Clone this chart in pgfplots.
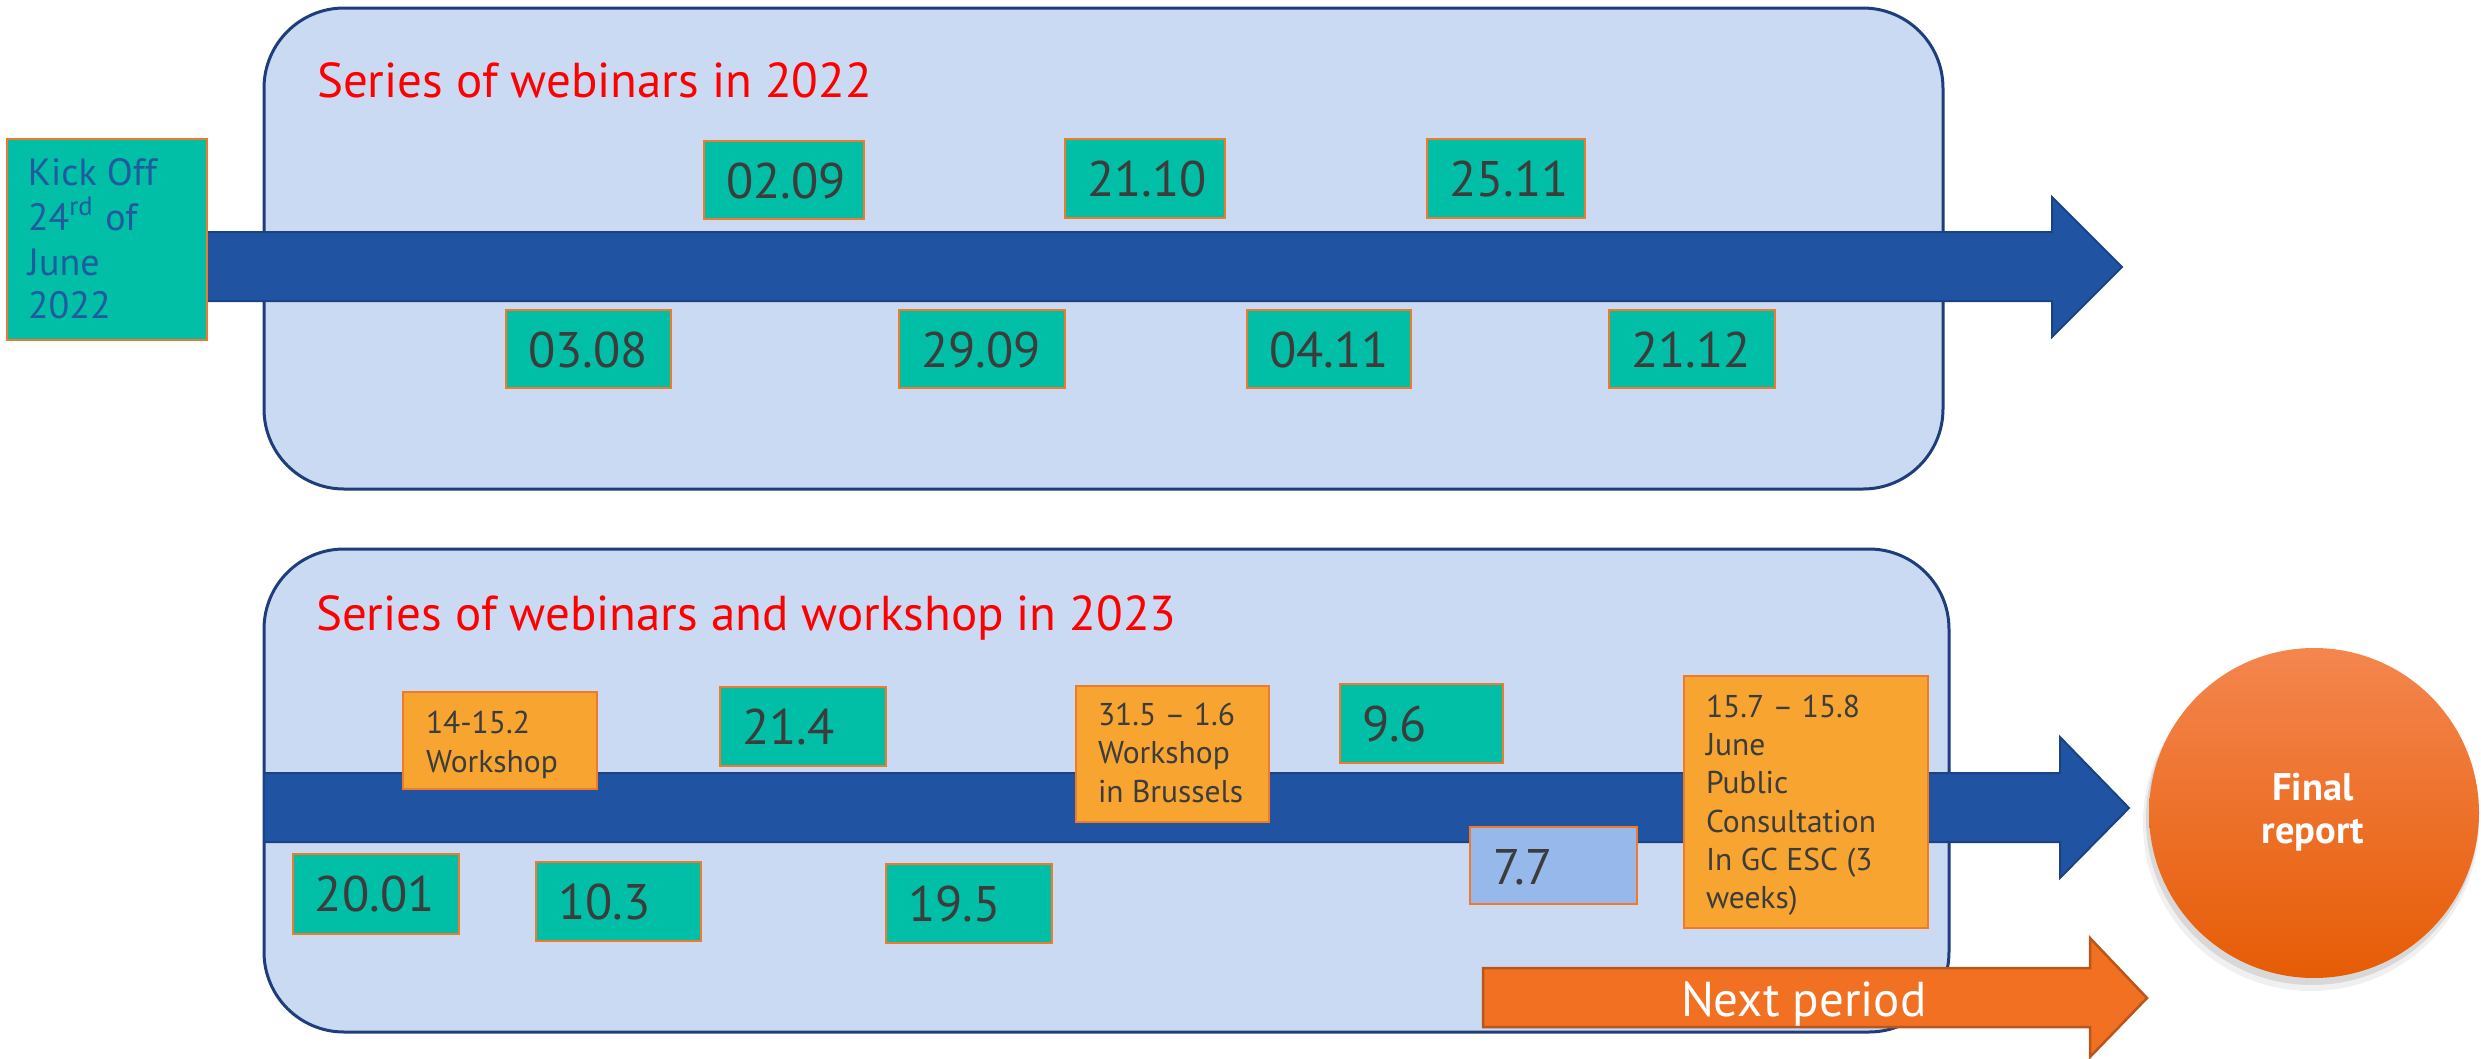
\documentclass[border=0pt]{standalone}
\usepackage{fontspec}
\setmainfont{PT Sans}
\usepackage{pgfplots}
\pgfplotsset{compat=1.18}
\definecolor{panelfill}{HTML}{CBDAF3}
\definecolor{paneldraw}{HTML}{1F3D7A}
\definecolor{arrowblue}{HTML}{2054A3}
\definecolor{arrowdraw}{HTML}{1B4282}
\definecolor{teal}{HTML}{00BFA6}
\definecolor{boxborder}{HTML}{F07A2A}
\definecolor{orangebox}{HTML}{F7A430}
\definecolor{bluebox}{HTML}{97B8EA}
\definecolor{nextorange}{HTML}{F27021}
\definecolor{nextdraw}{HTML}{B8561C}
\definecolor{txtgray}{HTML}{3C3C3C}
\definecolor{kickblue}{HTML}{215A9E}
\definecolor{circtop}{HTML}{F4864E}
\definecolor{circmid}{HTML}{F96F1F}
\definecolor{circbot}{HTML}{E65C06}
% box: fill, x1, y1, x2, y2
\newcommand\bx[5]{\addplot[fill=#1, draw=boxborder, line width=0.5pt, mark=none] coordinates {(#2,#3) (#4,#3) (#4,#5) (#2,#5)} -- cycle;}
% text line: font, colour, x, baseline y, text
\newcommand\tx[5]{\node[anchor=base west, inner sep=0pt, font=#1, text=#2] at (axis cs:#3,#4) {#5};}
\newcommand\dfont{\fontsize{10}{12}\selectfont}
\newcommand\sfont{\fontsize{6.3}{7.6}\selectfont}
\begin{document}
\begin{tikzpicture}
\begin{axis}[scale only axis, width=496.2pt, height=211.4pt,
  xmin=0, xmax=2481, ymin=0, ymax=1057, y dir=reverse,
  hide axis, clip=false, no markers]
\path (axis cs:0,0) rectangle (axis cs:2481,1057);
% panels
\draw[fill=panelfill, draw=paneldraw, line width=0.6pt, rounded corners=16pt] (axis cs:264,8) rectangle (axis cs:1943,489);
\draw[fill=panelfill, draw=paneldraw, line width=0.6pt, rounded corners=16pt] (axis cs:264,549) rectangle (axis cs:1949,1032);
% titles
\tx{\fontsize{9.8}{12}\selectfont}{red}{316}{97}{Series of webinars in 2022}
\tx{\fontsize{9.8}{12}\selectfont}{red}{315}{630}{Series of webinars and workshop in 2023}
% arrows
\addplot[fill=arrowblue, draw=arrowdraw, line width=0.4pt, mark=none] coordinates {(200,232) (2052,232) (2052,197) (2122,267) (2052,337) (2052,301) (200,301)} -- cycle;
\addplot[fill=arrowblue, draw=arrowdraw, line width=0.4pt, mark=none] coordinates {(264,773) (2060,773) (2060,737) (2129,808) (2060,878) (2060,842) (264,842)} -- cycle;
\addplot[fill=nextorange, draw=nextdraw, line width=0.5pt, mark=none] coordinates {(1483,968) (2090,968) (2090,938) (2147,998) (2090,1057) (2090,1027) (1483,1027)} -- cycle;
\tx{\fontsize{9.8}{12}\selectfont}{white}{1680}{1016}{Next period}
% kick off
\bx{teal}{7}{139}{207}{340}
\tx{\fontsize{7.6}{9}\selectfont}{kickblue}{27}{185}{Kick Off}
\tx{\fontsize{7.6}{9}\selectfont}{kickblue}{27}{230}{24\textsuperscript{rd} of}
\tx{\fontsize{7.6}{9}\selectfont}{kickblue}{27}{275}{June}
\tx{\fontsize{7.6}{9}\selectfont}{kickblue}{27}{318}{2022}
% 2022 boxes
\bx{teal}{704}{141}{864}{219}   \tx{\dfont}{txtgray}{725}{198}{02.09}
\bx{teal}{1065}{139}{1225}{218} \tx{\dfont}{txtgray}{1086}{196}{21.10}
\bx{teal}{1427}{139}{1585}{218} \tx{\dfont}{txtgray}{1448}{196}{25.11}
\bx{teal}{506}{310}{671}{388}   \tx{\dfont}{txtgray}{527}{367}{03.08}
\bx{teal}{899}{310}{1065}{388}  \tx{\dfont}{txtgray}{920}{367}{29.09}
\bx{teal}{1247}{310}{1411}{388} \tx{\dfont}{txtgray}{1268}{367}{04.11}
\bx{teal}{1609}{310}{1775}{388} \tx{\dfont}{txtgray}{1630}{367}{21.12}
% 2023 boxes
\bx{teal}{293}{854}{459}{934}   \tx{\dfont}{txtgray}{314}{911}{20.01}
\bx{teal}{536}{862}{701}{941}   \tx{\dfont}{txtgray}{557}{919}{10.3}
\bx{teal}{720}{687}{886}{766}   \tx{\dfont}{txtgray}{741}{744}{21.4}
\bx{teal}{886}{864}{1052}{943}  \tx{\dfont}{txtgray}{907}{921}{19.5}
\bx{teal}{1340}{684}{1503}{763} \tx{\dfont}{txtgray}{1361}{741}{9.6}
\bx{bluebox}{1470}{827}{1637}{904} \tx{\dfont}{txtgray}{1492}{884}{7.7}
\bx{orangebox}{403}{692}{597}{789}
\tx{\sfont}{txtgray}{425}{733}{14-15.2}
\tx{\sfont}{txtgray}{425}{772}{Workshop}
\bx{orangebox}{1076}{686}{1269}{822}
\tx{\sfont}{txtgray}{1097}{725}{31.5 – 1.6}
\tx{\sfont}{txtgray}{1097}{763}{Workshop}
\tx{\sfont}{txtgray}{1097}{802}{in Brussels}
\bx{orangebox}{1684}{676}{1928}{928}
\tx{\sfont}{txtgray}{1705}{717}{15.7 – 15.8}
\tx{\sfont}{txtgray}{1705}{755}{June}
\tx{\sfont}{txtgray}{1705}{793}{Public}
\tx{\sfont}{txtgray}{1705}{832}{Consultation}
\tx{\sfont}{txtgray}{1705}{870}{In GC ESC (3}
\tx{\sfont}{txtgray}{1705}{908}{weeks)}
% final report circle
\fill[black, opacity=0.06] (axis cs:2311,823) circle[radius=33.6pt];
\fill[black, opacity=0.10] (axis cs:2312,819) circle[radius=33.2pt];
\shade[top color=circtop, middle color=circmid, bottom color=circbot] (axis cs:2314,813) circle[radius=33pt];
\node[anchor=base, inner sep=0pt, text=white, font=\fontsize{7.7}{9}\selectfont\bfseries] at (axis cs:2313,800) {Final};
\node[anchor=base, inner sep=0pt, text=white, font=\fontsize{7.7}{9}\selectfont\bfseries] at (axis cs:2313,843) {report};
\end{axis}
\end{tikzpicture}
\end{document}
